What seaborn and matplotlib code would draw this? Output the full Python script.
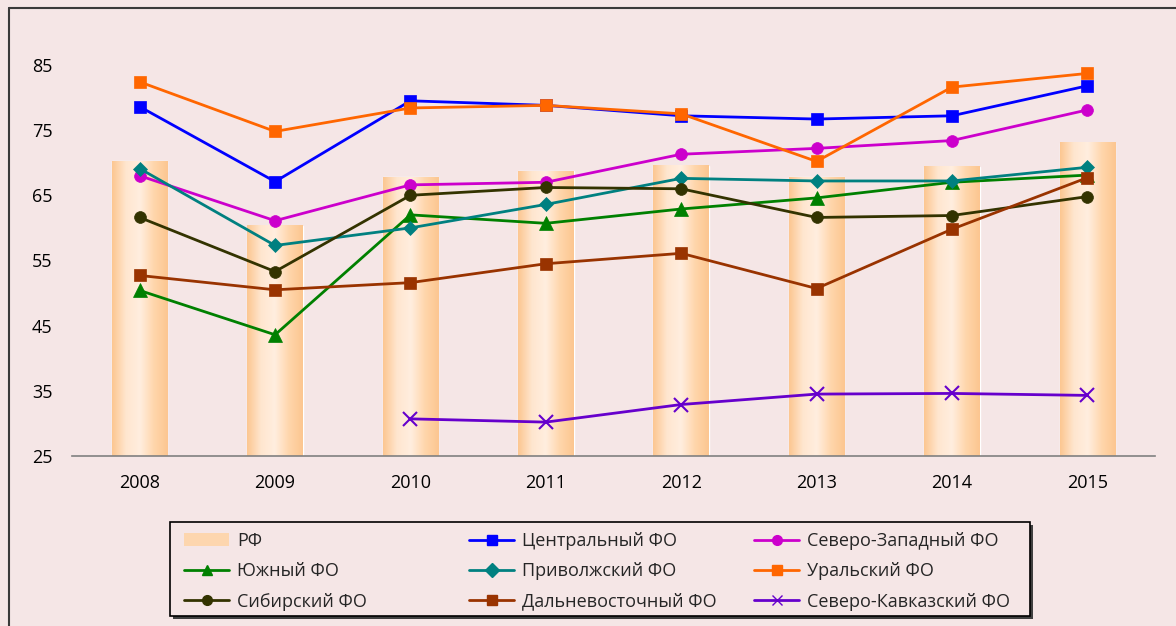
import numpy as np
import pandas as pd
import matplotlib
matplotlib.use('Agg')
import matplotlib.pyplot as plt
from matplotlib.lines import Line2D
from matplotlib.patches import Patch, Rectangle
from matplotlib.colors import LinearSegmentedColormap
import seaborn as sns

years = ['2008', '2009', '2010', '2011', '2012', '2013', '2014', '2015']
rf = [70.2, 60.3, 67.8, 68.7, 69.5, 67.8, 69.4, 73.1]

central = [78.6, 67.1, 79.5, 78.8, 77.2, 76.7, 77.2, 81.8]
northwest = [68.0, 61.1, 66.6, 67.0, 71.3, 72.2, 73.4, 78.1]
south = [50.4, 43.6, 62.0, 60.7, 62.9, 64.6, 67.0, 68.1]
volga = [69.1, 57.3, 60.0, 63.6, 67.6, 67.2, 67.2, 69.3]
ural = [82.4, 74.8, 78.4, 78.8, 77.5, 70.2, 81.6, 83.7]
siberia = [61.6, 53.3, 65.0, 66.2, 66.0, 61.6, 61.9, 64.8]
fareast = [52.7, 50.5, 51.6, 54.5, 56.1, 50.7, 59.8, 67.7]
ncaucasus = [np.nan, np.nan, 30.7, 30.2, 32.9, 34.5, 34.6, 34.3]

series = [
    ('Центральный ФО', central, '#0000FF', 's', 9),
    ('Северо-Западный ФО', northwest, '#CC00CC', 'o', 8.5),
    ('Южный ФО', south, '#008000', '^', 9.5),
    ('Приволжский ФО', volga, '#008080', 'D', 7.5),
    ('Уральский ФО', ural, '#FF6600', 's', 9),
    ('Сибирский ФО', siberia, '#333300', 'o', 8.5),
    ('Дальневосточный ФО', fareast, '#993300', 's', 8),
    ('Северо-Кавказский ФО', ncaucasus, '#6600CC', 'x', 10),
]

bg = '#F5E6E6'
sns.set_style('white')
plt.rcParams['font.family'] = ['Open Sans', 'DejaVu Sans']

W, H = 1176, 626
fig = plt.figure(figsize=(11.76, 6.26), dpi=100, facecolor=bg)
ax = fig.add_axes([72 / W, 170 / H, 1083 / W, (456 - 45.4) / H])
ax.set_facecolor(bg)

y_bottom, y_top = 25, 88

# bars for РФ, then overlay a horizontal gradient on each bar
df_rf = pd.DataFrame({'year': years, 'value': rf})
sns.barplot(data=df_rf, x='year', y='value', color='#FDD0A2', width=0.41,
            saturation=1, ax=ax, zorder=1)
grad_cmap = LinearSegmentedColormap.from_list(
    'bar', ['#FCC690', '#FFE6CF', '#FFEEDF', '#FFD6AC', '#FCC690'])
grad = np.linspace(0, 1, 256).reshape(1, -1)
for p in ax.patches:
    x0, w, h = p.get_x(), p.get_width(), p.get_height()
    ax.imshow(grad, cmap=grad_cmap, aspect='auto', zorder=1.5,
              extent=[x0, x0 + w, y_bottom, h], interpolation='bicubic')

pos = np.arange(len(years))
for name, vals, col, mk, ms in series:
    v = np.array(vals, dtype=float)
    ok = ~np.isnan(v)
    sns.lineplot(x=pos[ok], y=v[ok], color=col, marker=mk, markersize=ms,
                 markeredgecolor=col, markeredgewidth=1.5 if mk == 'x' else 0.5,
                 linewidth=2, ax=ax, zorder=3)

ax.set_xlim(-0.5, 7.5)
ax.set_ylim(y_bottom, y_top)
ax.set_yticks([25, 35, 45, 55, 65, 75, 85])
ax.set_xticks(pos)
ax.set_xticklabels(years)
ax.set_xlabel('')
ax.set_ylabel('')
for s in ['top', 'right', 'left']:
    ax.spines[s].set_visible(False)
ax.spines['bottom'].set_color('#808080')
ax.spines['bottom'].set_linewidth(1.2)
ax.spines['bottom'].set_zorder(4)
ax.tick_params(axis='both', length=0, labelsize=13, colors='black')
ax.tick_params(axis='x', pad=13)
ax.tick_params(axis='y', pad=14)

# outer chart frame (top and left edges visible)
fig.add_artist(Line2D([9 / W, 9 / W], [0, 1 - 8 / H],
                      color='#3a3a3a', linewidth=1.5))
fig.add_artist(Line2D([9 / W, 1], [1 - 8 / H, 1 - 8 / H],
                      color='#3a3a3a', linewidth=1.5))

# legend: box with shadow, three equally spaced columns like Excel
bx0, bx1, by0, by1 = 170, 1030, 522, 616
fig.add_artist(Rectangle(((bx0 + 3) / W, 1 - (by1 + 3) / H), (bx1 - bx0) / W,
                         (by1 - by0) / H, facecolor='#404040', edgecolor='none',
                         transform=fig.transFigure, zorder=5))
fig.add_artist(Rectangle((bx0 / W, 1 - by1 / H), (bx1 - bx0) / W,
                         (by1 - by0) / H, facecolor=bg, edgecolor='black',
                         linewidth=1.2, transform=fig.transFigure, zorder=6))

handles = {'РФ': Patch(facecolor='#FDD6AE', edgecolor='none')}
for name, vals, col, mk, ms in series:
    handles[name] = Line2D([], [], color=col, marker=mk, markersize=7,
                           markeredgecolor=col, linewidth=2)
columns = [
    (184, ['РФ', 'Южный ФО', 'Сибирский ФО']),
    (469, ['Центральный ФО', 'Приволжский ФО', 'Дальневосточный ФО']),
    (754, ['Северо-Западный ФО', 'Уральский ФО', 'Северо-Кавказский ФО']),
]
for cx, labels in columns:
    leg = fig.legend([handles[k] for k in labels], labels, ncol=1,
                     loc='upper left', bbox_to_anchor=(cx / W, 1 - 532 / H),
                     frameon=False, fontsize=13, handlelength=2.5,
                     handletextpad=0.45, borderaxespad=0, borderpad=0,
                     labelspacing=0.68)
    leg.set_zorder(7)

fig.savefig('out.png', dpi=100, facecolor=bg)
